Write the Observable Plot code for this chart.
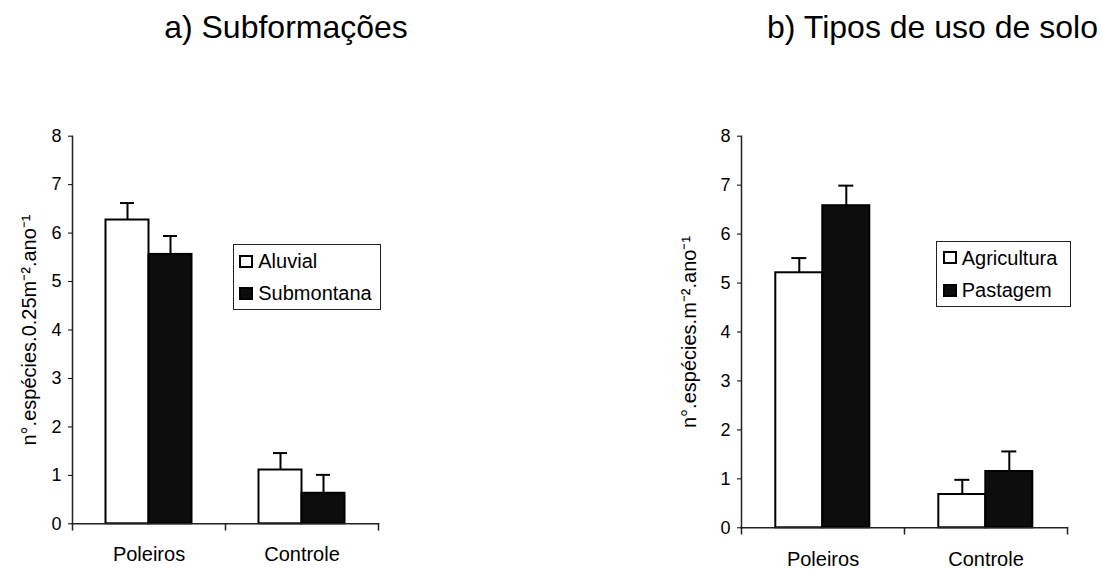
<!DOCTYPE html>
<html><head><meta charset="utf-8">
<script src="https://cdn.jsdelivr.net/npm/d3@7"></script>
<script src="https://cdn.jsdelivr.net/npm/@observablehq/plot@0.6"></script>
<style>
body{margin:0;background:#fff;}
#root{position:relative;width:1102px;height:569px;overflow:hidden;font-family:"Liberation Sans",Arial,sans-serif;color:#000;background:#fff;}
.panel{position:absolute;top:0;}
.title{position:absolute;font-size:32px;line-height:40px;white-space:nowrap;text-align:center;width:400px;}
.legend{position:absolute;border:1px solid #222;background:#fff;box-sizing:border-box;overflow:visible;}
.row{display:flex;align-items:center;font-size:20px;line-height:20px;white-space:nowrap;}
.sw{box-sizing:border-box;width:14px;height:13px;border:2px solid #000;margin-right:5px;flex:none;}
</style></head><body><div id="root"></div>
<script>
const categories = ["Poleiros", "Controle"];
const yTicks = [0, 1, 2, 3, 4, 5, 6, 7, 8];

const titleA = "a) Subformações";
const yLabelA = "n°.espécies.0.25m⁻².ano⁻¹";
const seriesA = ["Aluvial", "Submontana"];
const aluvial = [6.27, 1.11];
const aluvialErr = [0.35, 0.35];
const submontana = [5.56, 0.63];
const submontanaErr = [0.38, 0.38];

const titleB = "b) Tipos de uso de solo";
const yLabelB = "n°.espécies.m⁻².ano⁻¹";
const seriesB = ["Agricultura", "Pastagem"];
const agricultura = [5.21, 0.68];
const agriculturaErr = [0.30, 0.30];
const pastagem = [6.58, 1.15];
const pastagemErr = [0.41, 0.41];

const fills = ["#ffffff", "#0d0d0d"];

function rowsOf(series, vals, errs) {
  const out = [];
  categories.forEach((c, i) => series.forEach((s, j) => out.push({cat: c, series: s, value: vals[j][i], err: errs[j][i]})));
  return out;
}

function panel(o) {
  const rows = rowsOf(o.series, o.vals, o.errs);
  const innerH = o.height - o.mt - o.mb;
  const ax = {stroke: "#222", strokeWidth: 1.5};
  return Plot.plot({
    width: o.width, height: o.height,
    marginLeft: o.ml, marginRight: o.mr, marginTop: o.mt, marginBottom: o.mb,
    style: {fontFamily: '"Liberation Sans", Arial, sans-serif', background: "transparent", color: "#000", overflow: "visible"},
    fx: {domain: categories, padding: 0},
    x: {domain: o.series, paddingInner: 0, paddingOuter: o.pad, axis: null},
    y: {domain: [0, 8]},
    color: {domain: o.series, range: fills},
    marks: [
      Plot.barY(rows, {fx: "cat", x: "series", y: "value", fill: "series", stroke: "#000", strokeWidth: 2}),
      Plot.ruleX(rows, {fx: "cat", x: "series", y1: "value", y2: d => d.value + d.err, stroke: "#000", strokeWidth: 2}),
      Plot.tickY(rows, {fx: "cat", x: "series", y: d => d.value + d.err, insetLeft: o.cap, insetRight: o.cap, stroke: "#000", strokeWidth: 2}),
      Plot.frame({anchor: "bottom", ...ax}),
      Plot.frame({anchor: "left", insetTop: innerH, insetBottom: -6, ...ax}),
      Plot.frame({anchor: "right", facetAnchor: "right", insetTop: innerH, insetBottom: -6, ...ax}),
      Plot.frame({anchor: "left", facetAnchor: "left", ...ax}),
      Plot.axisY({ticks: yTicks, tickSize: 4, tickPadding: 7, fontSize: 18, label: null}),
      Plot.axisFx({anchor: "bottom", tickSize: 0, tickPadding: o.catPad, fontSize: 20, label: null}),
      Plot.text([o.yLabel], {frameAnchor: "left", facetAnchor: "left", rotate: -90, dx: -o.labelDx, textAnchor: "middle", lineAnchor: "bottom", fontSize: 20})
    ]
  });
}

function legend(series, box, rowH) {
  const div = document.createElement("div");
  div.className = "legend";
  Object.assign(div.style, {left: box.x + "px", top: box.y + "px", width: box.w + "px", height: box.h + "px", paddingLeft: box.pl + "px"});
  series.forEach((s, i) => {
    const r = document.createElement("div");
    r.className = "row";
    r.style.height = rowH + "px";
    const sw = document.createElement("span");
    sw.className = "sw";
    sw.style.background = fills[i];
    r.appendChild(sw);
    const t = document.createElement("span");
    t.textContent = s;
    r.appendChild(t);
    div.appendChild(r);
  });
  return div;
}

function title(text, cx, top) {
  const d = document.createElement("div");
  d.className = "title";
  d.textContent = text;
  d.style.left = (cx - 200) + "px";
  d.style.top = top + "px";
  return d;
}

const root = document.getElementById("root");

const pA = panel({width: 551, height: 569, ml: 71.5, mr: 172.5, mt: 135.7, mb: 45.7, pad: 0.764, cap: 14.5, catPad: 23, labelDx: 36.5,
  series: seriesA, vals: [aluvial, submontana], errs: [aluvialErr, submontanaErr], yLabel: yLabelA});
pA.classList.add("panel"); pA.style.left = "0px";
root.appendChild(pA);

const pB = panel({width: 551, height: 569, ml: 189.7, mr: 33.7, mt: 135.7, mb: 41.7, pad: 0.724, cap: 16, catPad: 24, labelDx: 45.7,
  series: seriesB, vals: [agricultura, pastagem], errs: [agriculturaErr, pastagemErr], yLabel: yLabelB});
pB.classList.add("panel"); pB.style.left = "551px";
root.appendChild(pB);

root.appendChild(title(titleA, 286, 7.2));
root.appendChild(title(titleB, 932.5, 7.2));
root.appendChild(legend(seriesA, {x: 232.7, y: 244, w: 148.3, h: 66, pl: 5.6}, 32));
root.appendChild(legend(seriesB, {x: 936, y: 240.7, w: 134.7, h: 66.6, pl: 5.7}, 32.5));
</script></body></html>
